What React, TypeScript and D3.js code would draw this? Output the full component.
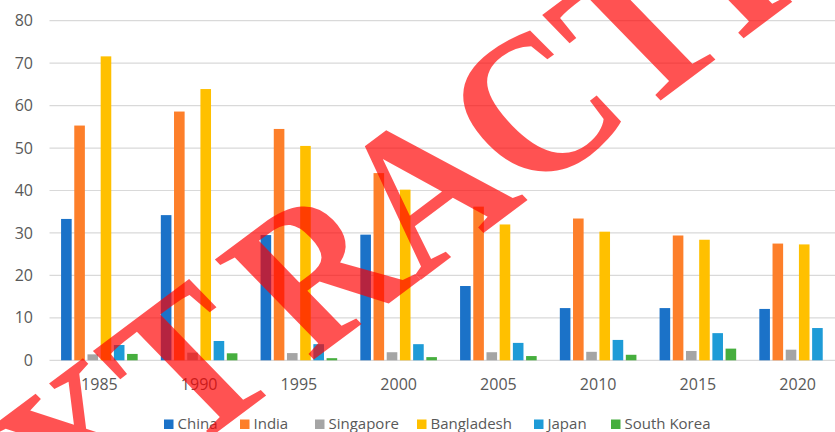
import React from "react";
import * as d3 from "d3";

const years = ["1985", "1990", "1995", "2000", "2005", "2010", "2015", "2020"];
const seriesNames = ["China", "India", "Singapore", "Bangladesh", "Japan", "South Korea"];
const china = [33.3, 34.2, 29.5, 29.6, 17.5, 12.3, 12.3, 12.1];
const india = [55.3, 58.6, 54.5, 44.1, 36.2, 33.4, 29.4, 27.5];
const singapore = [1.4, 1.8, 1.7, 1.9, 1.9, 2.0, 2.2, 2.5];
const bangladesh = [71.6, 63.9, 50.5, 40.2, 32.0, 30.3, 28.4, 27.3];
const japan = [3.6, 4.55, 3.8, 3.8, 4.1, 4.8, 6.4, 7.6];
const southKorea: (number | null)[] = [1.5, 1.65, 0.5, 0.75, 1.0, 1.3, 2.75, null];
const yTicks = [0, 10, 20, 30, 40, 50, 60, 70, 80];
const colors = ["#1b72c8", "#fd7f2a", "#a5a5a5", "#ffc000", "#1e9bd7", "#46ae3e"];
const watermark = "EXTRACTION";

const W = 835;
const H = 432;
const FONT = "'Open Sans', sans-serif";
// legend swatch left edges, as laid out in the reference
const legendX = [164, 240, 315, 417, 534, 611];

export default function App() {
  const allSeries = [china, india, singapore, bangladesh, japan, southKorea];
  const x = d3.scaleBand<string>().domain(years).range([49.5, 847.5]).paddingInner(0.206).paddingOuter(0.103);
  const xs = d3.scaleBand<string>().domain(seriesNames).range([0, x.bandwidth()]);
  const y = d3.scaleLinear().domain([0, 80]).range([360.3, 20.7]);
  const barW = xs.step() - 2.6;

  const legendFontSize = 15;
  const sq = 9.5;
  const gapSqText = 4;

  return (
    <svg width={W} height={H} style={{ position: "absolute", left: 0, top: 0, background: "#fff" }}>
      <rect x={0} y={0} width={W} height={H} fill="#fff" />
      {yTicks.map((t) => (
        <g key={t}>
          <line x1={49.5} x2={W} y1={y(t)} y2={y(t)} stroke="#d9d9d9" strokeWidth={1.2} />
          <text x={33} y={y(t)} dy="0.35em" textAnchor="end" fontFamily={FONT} fontSize={16} fill="#595959">
            {t}
          </text>
        </g>
      ))}
      {years.map((yr, i) => (
        <g key={yr}>
          {allSeries.map((s, j) => {
            const v = s[i];
            if (v == null) return null;
            const bx = (x(yr) as number) + (xs(seriesNames[j]) as number) + 1.3;
            return <rect key={j} x={bx} y={y(v)} width={barW} height={y(0) - y(v)} fill={colors[j]} />;
          })}
          <text
            x={(x(yr) as number) + x.bandwidth() / 2}
            y={384}
            dy="0.35em"
            textAnchor="middle"
            fontFamily={FONT}
            fontSize={16}
            fill="#595959"
          >
            {yr}
          </text>
        </g>
      ))}
      {seriesNames.map((n, i) => (
        <g key={n}>
          <rect x={legendX[i]} y={419.5} width={sq} height={sq} fill={colors[i]} />
          <text x={legendX[i] + sq + gapSqText} y={424} dy="0.35em" fontFamily={FONT} fontSize={legendFontSize} fill="#595959">
            {n}
          </text>
        </g>
      ))}
      <text
        transform="matrix(1.511,-1.13,1.495,1.54,-21.5,610.4)"
        x={0}
        y={0}
        fontFamily="'Liberation Serif', 'Times New Roman', serif"
        fontWeight="bold"
        fontSize={100}
        fill="#ff0000"
        fillOpacity={0.68}
      >
        <tspan>{watermark.slice(0, 3)}</tspan>
        <tspan dx={14}>{watermark.slice(3)}</tspan>
      </text>
    </svg>
  );
}
